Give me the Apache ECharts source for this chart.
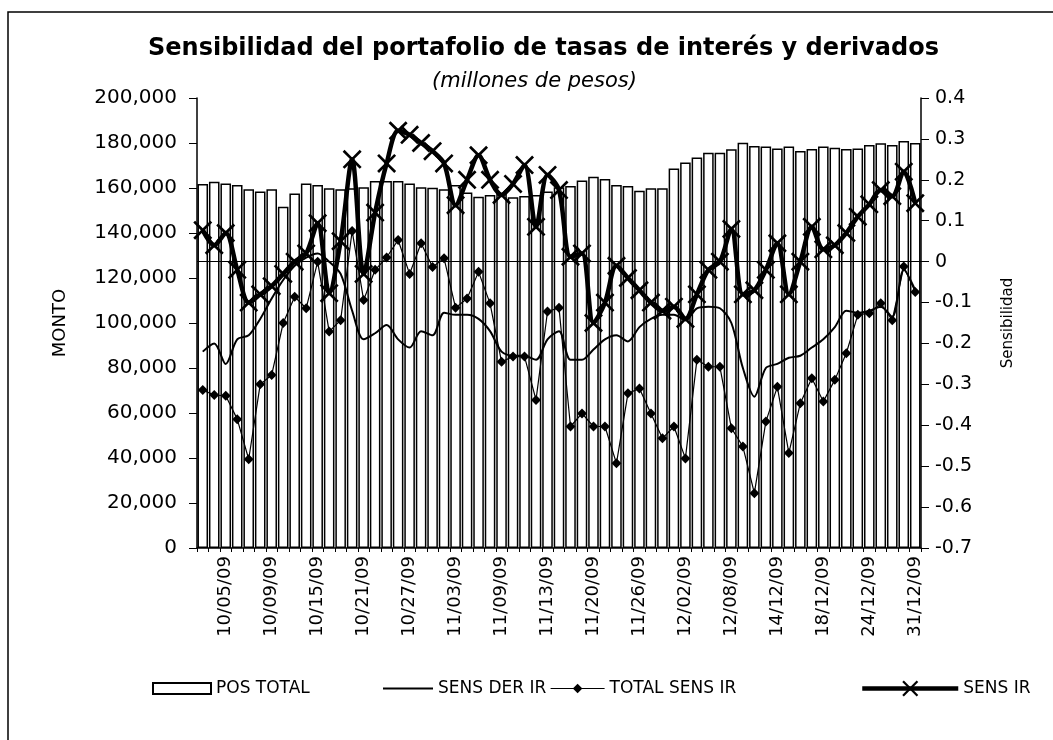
<!DOCTYPE html>
<html>
<head>
<meta charset="utf-8">
<script src="https://cdn.jsdelivr.net/npm/echarts@6/dist/echarts.min.js"></script>
<style>
  html, body { margin: 0; padding: 0; background: #fff; }
  #chart { width: 1053px; height: 740px; }
</style>
</head>
<body>
<div id="chart"></div>
<script>
// fechas (dias habiles oct-dic 2009), el formato cambia a DD/MM a partir del 14 dic
const fechas = ['10/01/09','10/02/09','10/05/09','10/06/09','10/07/09','10/08/09','10/09/09','10/12/09','10/13/09','10/14/09',
  '10/15/09','10/16/09','10/19/09','10/20/09','10/21/09','10/22/09','10/23/09','10/26/09','10/27/09','10/28/09',
  '10/29/09','10/30/09','11/03/09','11/04/09','11/05/09','11/06/09','11/09/09','11/10/09','11/11/09','11/12/09',
  '11/13/09','11/17/09','11/18/09','11/19/09','11/20/09','11/23/09','11/24/09','11/25/09','11/26/09','11/27/09',
  '11/30/09','12/01/09','12/02/09','12/03/09','12/04/09','12/07/09','12/08/09','12/09/09','12/10/09','12/11/09',
  '14/12/09','15/12/09','16/12/09','17/12/09','18/12/09','21/12/09','22/12/09','23/12/09','24/12/09','28/12/09',
  '29/12/09','30/12/09','31/12/09'];

// POS TOTAL (eje izquierdo, millones de pesos)
const posTotal = [161800,162800,162000,161300,159500,158400,159500,151700,157600,162000,
  161300,159900,159400,159900,160300,163100,163100,163100,162000,160300,
  160100,159500,161300,158000,156100,156900,157300,155900,156400,156900,
  158400,160300,160900,163300,165000,164000,161300,160900,158800,159900,
  159900,168700,171300,173600,175700,175700,177200,180100,178700,178400,
  177600,178400,176400,177300,178400,177900,177300,177600,179100,179900,
  179100,180900,180000];

// sensibilidades (eje derecho)
const sensDerIr = [-0.22,-0.20,-0.25,-0.19,-0.18,-0.14,-0.09,-0.045,-0.01,0.01,
  0.02,0.0,-0.03,-0.12,-0.19,-0.175,-0.155,-0.19,-0.21,-0.17,
  -0.18,-0.125,-0.13,-0.13,-0.14,-0.17,-0.22,-0.23,-0.23,-0.24,
  -0.19,-0.17,-0.24,-0.24,-0.215,-0.19,-0.18,-0.195,-0.16,-0.14,
  -0.13,-0.13,-0.143,-0.114,-0.11,-0.114,-0.15,-0.26,-0.33,-0.26,
  -0.25,-0.235,-0.23,-0.21,-0.19,-0.16,-0.12,-0.125,-0.12,-0.11,
  -0.135,-0.02,-0.07];

const totalSensIr = [-0.314,-0.326,-0.328,-0.385,-0.483,-0.30,-0.277,-0.15,-0.086,-0.114,
  0.0,-0.171,-0.143,0.075,-0.094,-0.02,0.01,0.053,-0.03,0.045,
  -0.013,0.008,-0.113,-0.09,-0.025,-0.102,-0.245,-0.232,-0.232,-0.338,
  -0.122,-0.113,-0.403,-0.371,-0.403,-0.403,-0.493,-0.322,-0.31,-0.371,
  -0.432,-0.403,-0.481,-0.24,-0.257,-0.257,-0.407,-0.452,-0.566,-0.391,
  -0.306,-0.468,-0.346,-0.285,-0.342,-0.289,-0.224,-0.13,-0.126,-0.102,
  -0.143,-0.012,-0.074];

const sensIr = [0.077,0.04,0.07,-0.02,-0.1,-0.08,-0.06,-0.03,0.0,0.02,
  0.094,-0.077,0.05,0.25,-0.03,0.12,0.24,0.32,0.31,0.29,
  0.27,0.24,0.138,0.2,0.26,0.2,0.163,0.19,0.236,0.085,
  0.212,0.175,0.012,0.02,-0.15,-0.1,-0.01,-0.04,-0.07,-0.1,
  -0.12,-0.11,-0.14,-0.08,-0.02,0.0,0.08,-0.08,-0.07,-0.02,
  0.045,-0.08,0.0,0.085,0.03,0.04,0.07,0.11,0.14,0.175,
  0.16,0.22,0.143];

const fuente = 'DejaVu Sans';
// marca en forma de X (poligono delgado)
const cruz = 'path://M1,0L5,4L9,0L10,1L6,5L10,9L9,10L5,6L1,10L0,9L4,5L0,1Z';

let myChart = echarts.init(document.getElementById('chart'), null, {renderer: 'canvas'});

const legendBase = {
  top: 675,
  itemGap: 4,
  textStyle: {fontFamily: fuente, fontSize: 17, color: '#000'},
  selectedMode: false
};

let option = {
  animation: false,
  backgroundColor: '#fff',
  title: [{
    text: 'Sensibilidad del portafolio de tasas de interés y derivados',
    left: 143,
    top: 32,
    textStyle: {fontFamily: fuente, fontWeight: 'bold', fontSize: 24, color: '#000'}
  }, {
    text: '(millones de pesos)',
    left: 427,
    top: 66,
    textStyle: {fontFamily: fuente, fontStyle: 'italic', fontWeight: 'normal', fontSize: 21, color: '#000'}
  }],
  legend: [
    Object.assign({}, legendBase, {left: 147, itemWidth: 58, itemHeight: 11,
      data: [{name: 'POS TOTAL', icon: 'rect'}]}),
    Object.assign({}, legendBase, {left: 378, itemWidth: 50, itemHeight: 2,
      data: [{name: 'SENS DER IR', icon: 'rect'}]}),
    Object.assign({}, legendBase, {left: 545, itemWidth: 54, itemHeight: 12,
      lineStyle: {width: 1.2}, data: ['TOTAL SENS IR']}),
    Object.assign({}, legendBase, {left: 855, itemWidth: 96, itemHeight: 20,
      lineStyle: {width: 4.5}, data: ['SENS IR']})
  ],
  grid: {left: 197, right: 132, top: 98, bottom: 192},
  xAxis: {
    type: 'category',
    data: fechas,
    boundaryGap: true,
    axisLine: {lineStyle: {color: '#000', width: 1.5}},
    axisTick: {show: true, interval: 0, length: 4, lineStyle: {color: '#000'}},
    axisLabel: {
      rotate: 90,
      interval: (idx) => (idx - 2) % 4 === 0,
      fontFamily: fuente,
      fontSize: 18,
      color: '#000',
      margin: 8
    },
    splitLine: {show: false}
  },
  yAxis: [{
    type: 'value',
    min: 0,
    max: 200000,
    interval: 20000,
    name: 'MONTO',
    nameLocation: 'middle',
    nameGap: 128,
    nameRotate: 90,
    nameTextStyle: {fontFamily: fuente, fontSize: 18, color: '#000'},
    axisLine: {show: true, lineStyle: {color: '#000', width: 1.5}},
    axisTick: {show: true, length: 8, lineStyle: {color: '#000'}},
    axisLabel: {
      fontFamily: fuente, fontSize: 20, color: '#000', margin: 20,
      formatter: (v) => v.toLocaleString('en-US')
    },
    splitLine: {show: false}
  }, {
    type: 'value',
    min: -0.7,
    max: 0.4,
    interval: 0.1,
    position: 'right',
    name: 'Sensibilidad',
    nameLocation: 'middle',
    nameGap: 80,
    nameRotate: 90,
    nameTextStyle: {fontFamily: fuente, fontSize: 15, color: '#000'},
    axisLine: {show: true, lineStyle: {color: '#000', width: 1.5}},
    axisTick: {show: true, length: 8, lineStyle: {color: '#000'}},
    axisLabel: {
      fontFamily: fuente, fontSize: 19, color: '#000', margin: 14,
      formatter: (v) => {
        let r = Math.round(v * 10) / 10;
        return r === 0 ? '0' : r.toFixed(1);
      }
    },
    splitLine: {show: false}
  }],
  graphic: [{
    type: 'rect',
    silent: true,
    shape: {x: 8, y: 12, width: 1200, height: 900},
    style: {fill: 'none', stroke: '#000', lineWidth: 1.5}
  }],
  series: [{
    name: 'POS TOTAL',
    type: 'bar',
    yAxisIndex: 0,
    data: posTotal,
    barCategoryGap: '8%',
    itemStyle: {color: '#fff', borderColor: '#000', borderWidth: 1.5},
    z: 1
  }, {
    name: 'SENS DER IR',
    type: 'line',
    yAxisIndex: 1,
    data: sensDerIr,
    smooth: 0.3,
    showSymbol: false,
    symbol: 'none',
    lineStyle: {color: '#000', width: 2},
    itemStyle: {color: '#000'},
    markLine: {
      silent: true,
      symbol: 'none',
      label: {show: false},
      lineStyle: {color: '#000', width: 1.2, type: 'solid'},
      data: [{yAxis: 0}]
    },
    z: 3
  }, {
    name: 'TOTAL SENS IR',
    type: 'line',
    yAxisIndex: 1,
    data: totalSensIr,
    symbol: 'diamond',
    symbolSize: 10,
    showAllSymbol: true,
    lineStyle: {color: '#000', width: 1.2},
    itemStyle: {color: '#000'},
    z: 4
  }, {
    name: 'SENS IR',
    type: 'line',
    yAxisIndex: 1,
    data: sensIr,
    smooth: 0.3,
    symbol: cruz,
    symbolSize: 19,
    showAllSymbol: true,
    lineStyle: {color: '#000', width: 4.5},
    itemStyle: {color: '#000'},
    z: 5
  }]
};

myChart.setOption(option);
</script>
</body>
</html>
